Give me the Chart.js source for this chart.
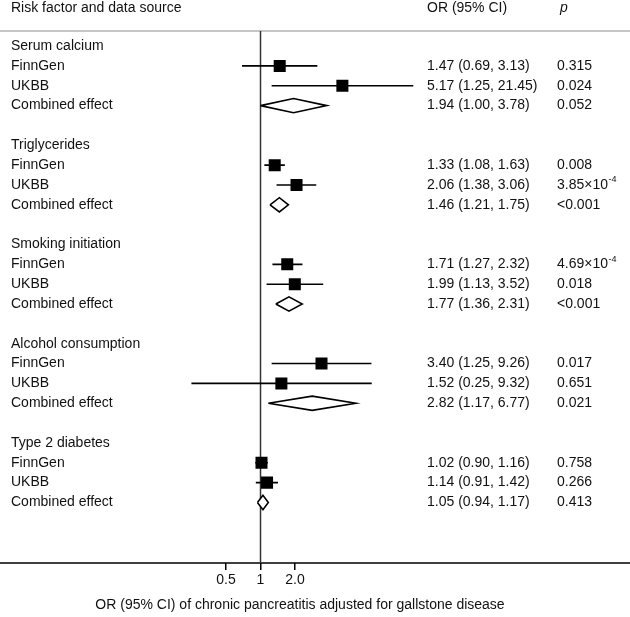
<!DOCTYPE html>
<html>
<head>
<meta charset="utf-8">
<script src="https://cdn.jsdelivr.net/npm/chart.js@4"></script>
<style>
  html, body { margin: 0; padding: 0; background: #fff; }
  #wrap { width: 630px; height: 617px; position: relative; }
</style>
</head>
<body>
<div id="wrap"><canvas id="forest"></canvas></div>
<script>
// ---- data ----
const groups = ['Serum calcium', 'Triglycerides', 'Smoking initiation', 'Alcohol consumption', 'Type 2 diabetes'];
const sources = ['FinnGen', 'UKBB', 'Combined effect'];
const orValues = [[1.47, 5.17, 1.94], [1.33, 2.06, 1.46], [1.71, 1.99, 1.77], [3.40, 1.52, 2.82], [1.02, 1.14, 1.05]];
const ciLow = [[0.69, 1.25, 1.00], [1.08, 1.38, 1.21], [1.27, 1.13, 1.36], [1.25, 0.25, 1.17], [0.90, 0.91, 0.94]];
const ciHigh = [[3.13, 21.45, 3.78], [1.63, 3.06, 1.75], [2.32, 3.52, 2.31], [9.26, 9.32, 6.77], [1.16, 1.42, 1.17]];
const pValues = [
    ['0.315', '0.024', '0.052'],
    ['0.008', '3.85×10^-4', '<0.001'],
    ['4.69×10^-4', '0.018', '<0.001'],
    ['0.017', '0.651', '0.021'],
    ['0.758', '0.266', '0.413']
];
const tickValues = [0.5, 1, 2];
const tickLabels = ['0.5', '1', '2.0'];

const FONT = '"Liberation Sans", Arial, Helvetica, sans-serif';
const rowsPerGroup = 5;
const rowOf = (g, s) => g * rowsPerGroup + 1 + s;

// y range (rows) and x range (log) of the plot area
const yMin = -0.76, yMax = 26.05;
const xMin = Math.pow(2, -259 / 35.5), xMax = Math.pow(2, 371 / 35.5);

// CI lines: one dataset, gaps between rows
const ciData = [];
const squareData = [];
groups.forEach((g, gi) => {
    for (let s = 0; s < 2; s++) {
        const r = rowOf(gi, s);
        ciData.push({ x: ciLow[gi][s], y: r }, { x: ciHigh[gi][s], y: r }, { x: null, y: null });
        squareData.push({ x: orValues[gi][s], y: r });
    }
});

// diamonds for combined effects
const diamondHalf = 0.36;
const diamondSets = groups.map((g, gi) => {
    const r = rowOf(gi, 2);
    return {
        data: [
            { x: ciLow[gi][2], y: r },
            { x: orValues[gi][2], y: r - diamondHalf },
            { x: ciHigh[gi][2], y: r },
            { x: orValues[gi][2], y: r + diamondHalf },
            { x: ciLow[gi][2], y: r }
        ],
        showLine: true,
        fill: 'shape',
        backgroundColor: '#fff',
        borderColor: '#000',
        borderWidth: 1.6,
        pointRadius: 0,
        tension: 0,
        order: 2
    };
});

// draw text columns and extra lines
const textPlugin = {
    id: 'forestText',
    beforeDatasetsDraw(chart) {
        const c = chart.ctx;
        const area = chart.chartArea;
        c.save();
        c.lineWidth = 1.5;
        c.strokeStyle = '#b3b3b3';
        c.beginPath();
        c.moveTo(0, area.top);
        c.lineTo(chart.width, area.top);
        c.stroke();
        c.strokeStyle = '#000';
        c.beginPath();
        c.moveTo(0, area.bottom);
        c.lineTo(chart.width, area.bottom);
        c.stroke();
        c.restore();
    },
    afterDraw(chart) {
        const c = chart.ctx;
        const y = chart.scales.y;
        c.save();
        c.fillStyle = '#111';
        c.textBaseline = 'middle';
        c.font = '14px ' + FONT;
        c.fillText('Risk factor and data source', 11, 8);
        c.fillText('OR (95% CI)', 427, 8);
        c.font = 'italic 14px ' + FONT;
        c.fillText('p', 560, 8);
        c.font = '14px ' + FONT;

        groups.forEach((g, gi) => {
            c.fillText(g, 11, y.getPixelForValue(gi * rowsPerGroup));
            sources.forEach((s, si) => {
                const py = y.getPixelForValue(rowOf(gi, si));
                c.fillText(s, 11, py);
                const txt = orValues[gi][si].toFixed(2) + ' (' + ciLow[gi][si].toFixed(2) + ', ' + ciHigh[gi][si].toFixed(2) + ')';
                c.fillText(txt, 427, py);
                const p = pValues[gi][si];
                if (p.includes('^')) {
                    const [base, sup] = p.split('^');
                    c.fillText(base, 557, py);
                    const w = c.measureText(base).width;
                    c.font = '9px ' + FONT;
                    c.fillText(sup, 557 + w + 0.5, py - 5);
                    c.font = '14px ' + FONT;
                } else {
                    c.fillText(p, 557, py);
                }
            });
        });

        c.textAlign = 'center';
        c.fillText('OR (95% CI) of chronic pancreatitis adjusted for gallstone disease', 300, 605);
        c.restore();
    }
};

new Chart(document.getElementById('forest'), {
    type: 'scatter',
    data: {
        datasets: [
            {
                data: [{ x: 1, y: yMin }, { x: 1, y: yMax }],
                showLine: true,
                borderColor: '#333',
                borderWidth: 1.5,
                pointRadius: 0,
                order: 4
            },
            {
                data: ciData,
                showLine: true,
                spanGaps: false,
                borderColor: '#000',
                borderWidth: 1.6,
                pointRadius: 0,
                order: 3
            },
            ...diamondSets,
            {
                data: squareData,
                pointStyle: 'rect',
                pointRadius: 8.5,
                backgroundColor: '#000',
                borderWidth: 0,
                order: 1
            }
        ]
    },
    options: {
        responsive: true,
        maintainAspectRatio: false,
        animation: false,
        layout: { padding: { top: 31, left: 0, right: 0, bottom: 0 } },
        plugins: {
            legend: { display: false },
            tooltip: { enabled: false }
        },
        scales: {
            x: {
                type: 'logarithmic',
                bounds: 'data',
                min: xMin,
                max: xMax,
                afterBuildTicks: scale => {
                    scale.ticks = tickValues.map(v => ({ value: v }));
                },
                afterFit: scale => {
                    scale.height = 54;
                    scale.paddingLeft = 0;
                    scale.paddingRight = 0;
                },
                ticks: {
                    color: '#111',
                    font: { family: FONT, size: 14 },
                    padding: 2,
                    maxRotation: 0,
                    autoSkip: false,
                    callback: (val) => {
                        const i = tickValues.indexOf(val);
                        return i >= 0 ? tickLabels[i] : '';
                    }
                },
                grid: {
                    drawOnChartArea: false,
                    drawTicks: true,
                    tickLength: 7,
                    color: '#000',
                    lineWidth: 1.5
                },
                border: { display: false }
            },
            y: {
                type: 'linear',
                display: false,
                reverse: true,
                min: yMin,
                max: yMax
            }
        }
    },
    plugins: [textPlugin]
});
</script>
</body>
</html>
